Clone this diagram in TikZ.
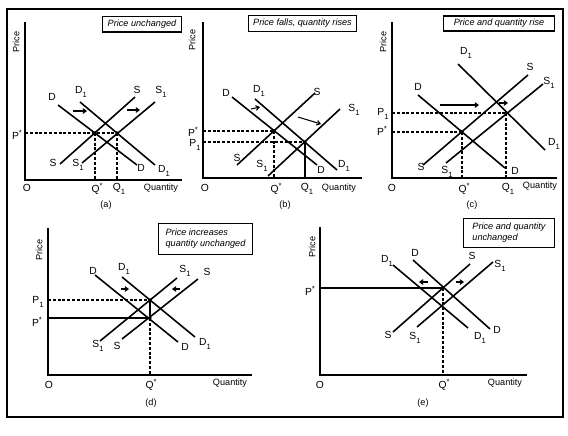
\documentclass[tikz,border=0pt]{standalone}
\usepackage{fontspec}
\setmainfont{Liberation Sans}
\usetikzlibrary{arrows.meta}
\newcommand{\subone}[1]{#1\raisebox{-.65ex}{\fontsize{6.5}{7}\selectfont 1}}
\newcommand{\starred}[1]{#1\raisebox{.8ex}{\fontsize{6.5}{7}\selectfont *}}
\tikzset{
  curve/.style={line width=1.35pt},
  axis/.style={line width=1.2pt},
  guide/.style={line width=.9pt,dash pattern=on 2.5pt off 1.6pt},
  level/.style={line width=1pt},
  shiftarr/.style={line width=.9pt,-{Straight Barb[length=2.8pt,width=4pt]}},
  lbl/.style={font=\fontsize{8.8}{9}\selectfont,inner sep=0pt},
  word/.style={font=\fontsize{7.8}{9}\selectfont,inner sep=0pt},
  titlebox/.style={draw,line width=.9pt,font=\fontsize{7.8}{9.5}\selectfont\itshape,inner sep=1pt,align=left}
}
\begin{document}
\begin{tikzpicture}[x=0.03cm,y=-0.03cm]
\useasboundingbox (0,0) rectangle (568,435);
\draw[line width=1pt] (7,9) rectangle (563,417);
% (a)
\draw[axis] (25,22) -- (25,180) -- (182,180);
\node[word,rotate=90] (aPrice) at (16,42) {Price};
\node[titlebox,minimum width=68pt,minimum height=13.6pt] (aTitle) at (142,24) {Price unchanged};
\draw[guide] (25,133) -- (117,133);
\draw[guide] (95,133) -- (95,180);
\draw[guide] (117,133) -- (117,180);
\draw[curve] (58,105) -- (137,165);
\draw[curve] (80,102) -- (155,165);
\draw[curve] (60,164) -- (135,97);
\draw[curve] (82,163) -- (155,102);
\fill (95,133) circle[radius=1.8] (117,133) circle[radius=1.8];
\draw[shiftarr] (73,111) -- (87,111);
\draw[shiftarr] (127,110) -- (140,110);
\foreach \px/\py/\txt/\nm in {52/97/D/aD, 81/92/{\subone{D}}/aD1, 137/90/S/aS, 161/92/{\subone{S}}/aS1,
  53/163/S/aSb, 78/165/{\subone{S}}/aS1b, 141/168/D/aDb, 164/171/{\subone{D}}/aD1b,
  17/135/{\starred{P}}/aP, 27/188/O/aO, 97/189/{\starred{Q}}/aQ, 119/189/{\subone{Q}}/aQ1}
  \node[lbl] (\nm) at (\px,\py) {\txt};
\node[word] (aQty) at (161,188) {Quantity};
\node[word] (aCap) at (106,205) {(a)};
% (b)
\draw[axis] (203,22) -- (203,178) -- (362,178);
\node[word,rotate=90] (bPrice) at (192,40) {Price};
\node[titlebox,minimum width=92.7pt,minimum height=14.4pt] (bTitle) at (302.5,23.5) {Price falls, quantity rises};
\draw[guide] (203,131) -- (274,131);
\draw[guide] (203,142) -- (305,142);
\draw[guide] (274,131) -- (274,178);
\draw[level] (305,142) -- (305,178);
\draw[curve] (232,97) -- (317,165);
\draw[curve] (255,99) -- (337,170);
\draw[curve] (237,165) -- (315,93);
\draw[curve] (268,176) -- (340,109);
\fill (274,131) circle[radius=1.8] (305,142) circle[radius=1.8];
\draw[shiftarr] (251,109) -- (260,107);
\draw[shiftarr] (298,117) -- (321,124);
\foreach \px/\py/\txt/\nm in {226/93/D/bD, 259/91/{\subone{D}}/bD1, 317/92/S/bS, 354/110/{\subone{S}}/bS1,
  237/158/S/bSb, 262/166/{\subone{S}}/bS1b, 321/170/D/bDb, 344/166/{\subone{D}}/bD1b,
  193/132/{\starred{P}}/bP, 195/145/{\subone{P}}/bP1, 205/188/O/bO, 276/189/{\starred{Q}}/bQ, 307/189/{\subone{Q}}/bQ1}
  \node[lbl] (\nm) at (\px,\py) {\txt};
\node[word] (bQty) at (339,188) {Quantity};
\node[word] (bCap) at (285,205) {(b)};
% (c)
\draw[axis] (392,22) -- (392,178) -- (557,178);
\node[word,rotate=90] (cPrice) at (383,42) {Price};
\node[titlebox,minimum width=95pt,minimum height=12.8pt] (cTitle) at (499,23.5) {Price and quantity rise};
\draw[guide] (392,132) -- (462,132);
\draw[guide] (392,113) -- (506,113);
\draw[guide] (462,132) -- (462,178);
\draw[guide] (506,113) -- (506,178);
\draw[curve] (418,95) -- (505,168);
\draw[curve] (458,64) -- (545,150);
\draw[curve] (423,165) -- (528,75);
\draw[curve] (446,163) -- (543,84);
\fill (462,132) circle[radius=1.8] (506,113) circle[radius=1.8];
\draw[shiftarr] (440,105) -- (479,105);
\draw[shiftarr] (499,103) -- (508,103);
\foreach \px/\py/\txt/\nm in {418/87/D/cD, 466/53/{\subone{D}}/cD1, 530/67/S/cS, 549/83/{\subone{S}}/cS1,
  421/167/S/cSb, 447/172/{\subone{S}}/cS1b, 515/171/D/cDb, 554/144/{\subone{D}}/cD1b,
  383/114/{\subone{P}}/cP1, 382/131/{\starred{P}}/cP, 392/188/O/cO, 464/189/{\starred{Q}}/cQ, 508/189/{\subone{Q}}/cQ1}
  \node[lbl] (\nm) at (\px,\py) {\txt};
\node[word] (cQty) at (540,186) {Quantity};
\node[word] (cCap) at (472,205) {(c)};
% (d)
\draw[axis] (48,228) -- (48,375) -- (252,375);
\node[word,rotate=90] (dPrice) at (39,250) {Price};
\node[titlebox,minimum width=81pt,minimum height=27pt] (dTitle) at (205.5,239) {Price increases\\quantity unchanged};
\draw[guide] (48,300) -- (150,300);
\draw[level] (48,318) -- (150,318) -- (150,300);
\draw[guide] (150,318) -- (150,375);
\draw[curve] (95,275) -- (178,342);
\draw[curve] (122,277) -- (195,337);
\draw[curve] (122,339) -- (198,279);
\draw[curve] (100,341) -- (177,278);
\fill (150,318) circle[radius=1.8] (150,300) circle[radius=1.8];
\draw[shiftarr] (121,289) -- (129,289);
\draw[shiftarr] (180,289) -- (172,289);
\foreach \px/\py/\txt/\nm in {93/271/D/dD, 124/269/{\subone{D}}/dD1, 185/271/{\subone{S}}/dS1, 207/272/S/dS,
  98/346/{\subone{S}}/dS1b, 117/346/S/dSb, 185/347/D/dDb, 205/344/{\subone{D}}/dD1b,
  38/302/{\subone{P}}/dP1, 37/322/{\starred{P}}/dP, 49/385/O/dO, 151/385/{\starred{Q}}/dQ}
  \node[lbl] (\nm) at (\px,\py) {\txt};
\node[word] (dQty) at (230,383) {Quantity};
\node[word] (dCap) at (151,403) {(d)};
% (e)
\draw[axis] (320,227) -- (320,375) -- (527,375);
\node[word,rotate=90] (ePrice) at (312,247) {Price};
\node[titlebox,minimum width=78pt,minimum height=25.5pt] (eTitle) at (509,233) {Price and quantity\\unchanged};
\draw[level] (320,288) -- (443,288);
\draw[guide] (443,288) -- (443,375);
\draw[curve] (413,260) -- (490,329);
\draw[curve] (393,265) -- (468,328);
\draw[curve] (393,332) -- (470,264);
\draw[curve] (417,327) -- (493,262);
\fill (443,288) circle[radius=1.8];
\draw[shiftarr] (428,282) -- (419,282);
\draw[shiftarr] (456,282) -- (464,282);
\foreach \px/\py/\txt/\nm in {387/261/{\subone{D}}/eD1, 415/253/D/eD, 472/256/S/eS, 500/266/{\subone{S}}/eS1,
  388/335/S/eSb, 415/338/{\subone{S}}/eS1b, 480/338/{\subone{D}}/eD1b, 497/330/D/eDb,
  310/291/{\starred{P}}/eP, 320/385/O/eO, 444/385/{\starred{Q}}/eQ}
  \node[lbl] (\nm) at (\px,\py) {\txt};
\node[word] (eQty) at (505,383) {Quantity};
\node[word] (eCap) at (423,403) {(e)};
\end{tikzpicture}
\end{document}
